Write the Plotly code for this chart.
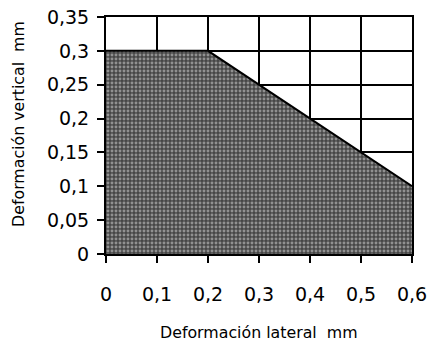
import plotly.graph_objects as go

x_vals = [0.0, 0.2, 0.6]
y_vals = [0.3, 0.3, 0.1]
x_ticks = [0, 0.1, 0.2, 0.3, 0.4, 0.5, 0.6]
x_tick_text = ["0", "0,1", "0,2", "0,3", "0,4", "0,5", "0,6"]
y_ticks = [0, 0.05, 0.1, 0.15, 0.2, 0.25, 0.3, 0.35]
y_tick_text = ["0", "0,05", "0,1", "0,15", "0,2", "0,25", "0,3", "0,35"]
x_title = "Deformación lateral  mm"
y_title = "Deformación vertical  mm"

fig = go.Figure()
fig.add_trace(go.Scatter(
    x=x_vals, y=y_vals, mode="lines", fill="tozeroy",
    line=dict(color="black", width=2),
    fillcolor="#464646",
    fillpattern=dict(shape=".", fgcolor="#dcdcdc", bgcolor="#464646", size=4, solidity=0.42),
    hoverinfo="skip", showlegend=False,
))

font = "DejaVu Sans, Arial, sans-serif"
axis_common = dict(
    showgrid=True, gridcolor="black", gridwidth=1.6,
    showline=True, linecolor="black", linewidth=2, mirror=True,
    ticks="outside", ticklen=7, tickwidth=1.6, tickcolor="black",
    zeroline=False, automargin=False, ticklabeloverflow="allow",
    tickfont=dict(family=font, size=19, color="black"),
)
fig.update_xaxes(range=[0, 0.6], tickvals=x_ticks, ticktext=x_tick_text,
                 ticklabelstandoff=15, **axis_common)
fig.update_yaxes(range=[0, 0.35], tickvals=y_ticks, ticktext=y_tick_text,
                 ticklabelstandoff=4, **axis_common)

fig.add_annotation(text=x_title, xref="paper", yref="paper", x=0.5, y=-0.33,
                   showarrow=False, font=dict(family=font, size=15.8, color="black"),
                   xanchor="center", yanchor="middle")
fig.add_annotation(text=y_title, xref="paper", yref="paper", x=-0.284, y=0.549,
                   textangle=-90, showarrow=False,
                   font=dict(family=font, size=15.8, color="black"),
                   xanchor="center", yanchor="middle")

fig.update_layout(
    width=430, height=342,
    margin=dict(l=106, r=18, t=17, b=88),
    paper_bgcolor="white", plot_bgcolor="white",
)
fig.write_html("out.html", config={"displayModeBar": False},
               post_script="document.body.style.margin='0';")
